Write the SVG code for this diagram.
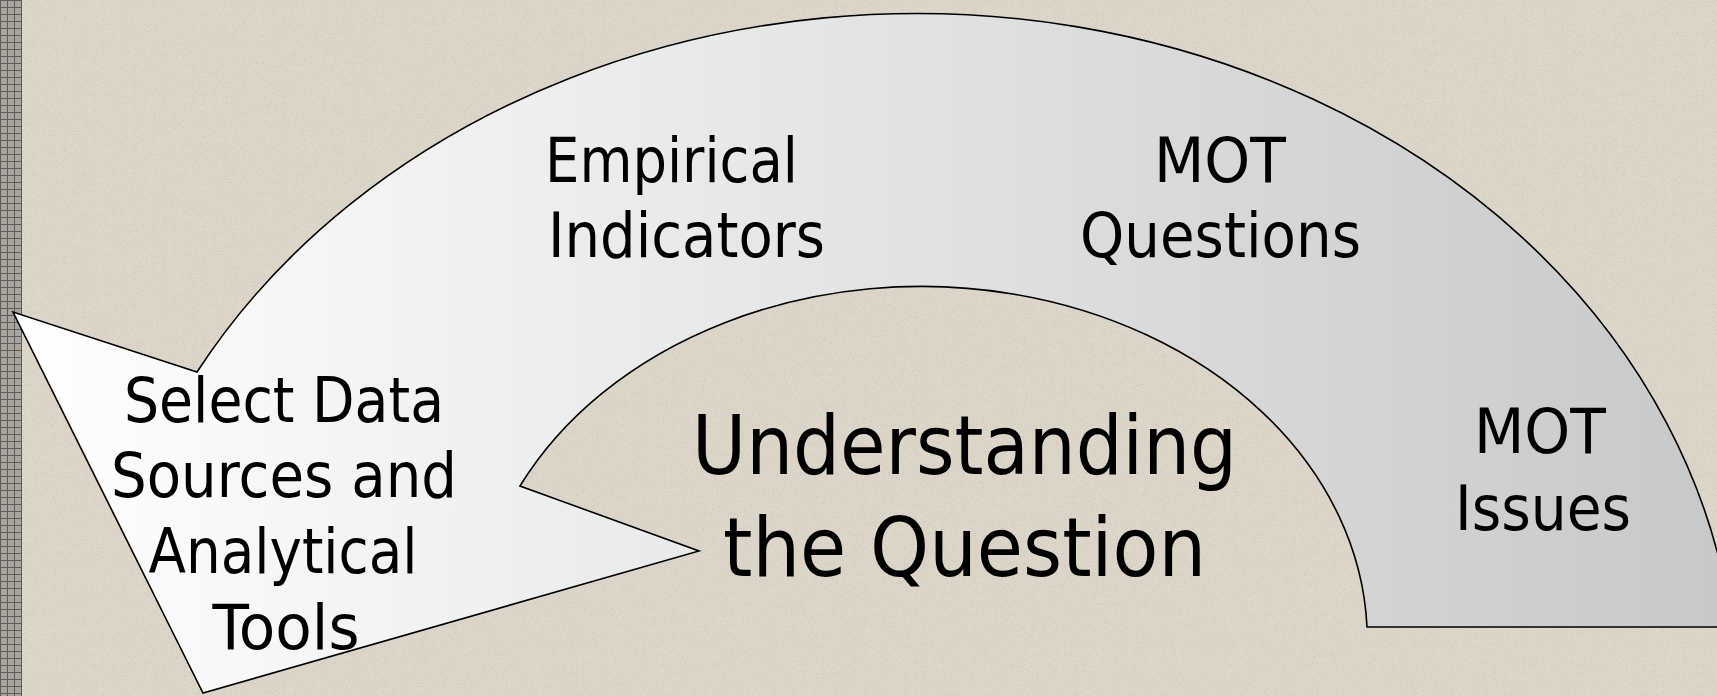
<svg xmlns="http://www.w3.org/2000/svg" width="1717" height="696" viewBox="0 0 1717 696">
  <defs>
    <linearGradient id="arcGrad" gradientUnits="userSpaceOnUse" x1="13" y1="0" x2="1732" y2="0">
      <stop offset="0" stop-color="#FFFFFF"/>
      <stop offset="1" stop-color="#C8C8C8"/>
    </linearGradient>
    <pattern id="grid" width="7" height="7" patternUnits="userSpaceOnUse">
      <rect width="7" height="7" fill="#A8A49E"/>
      <path d="M0 0.5 H7 M0.5 0 V7" stroke="#5E5C59" stroke-width="1"/>
    </pattern>
    <filter id="speckle" x="0" y="0" width="100%" height="100%">
      <feTurbulence type="fractalNoise" baseFrequency="0.9" numOctaves="2" seed="3" result="n"/>
      <feColorMatrix in="n" type="matrix" values="0 0 0 0 0.45  0 0 0 0 0.42  0 0 0 0 0.38  0 0 0 -3.2 1.55" result="dots"/>
      <feComposite in="dots" in2="SourceGraphic" operator="in"/>
    </filter>
  </defs>
  <style>
    .lbl { font-family: "DejaVu Sans", "Verdana", sans-serif; font-size: 62px; fill: #000000; text-anchor: middle; }
    .big { font-size: 82px; }
    .shape { fill: url(#arcGrad); stroke: #000000; stroke-width: 1.6; stroke-linejoin: miter; }
  </style>

  <!-- background -->
  <rect x="0" y="0" width="1717" height="696" fill="#DDD6C9"/>
  <rect x="0" y="0" width="1717" height="696" fill="#DDD6C9" filter="url(#speckle)" opacity="0.35"/>
  <rect x="0" y="0" width="22" height="696" fill="url(#grid)"/>

  <!-- curved arrow shape -->
  <g id="curved-arrow">
    <path class="shape" d="M 197 372 A 820 688 0 0 1 1732 627 L 1367 627 A 446 354 0 0 0 520 486 L 699 551 L 203 693 L 13 312 Z"/>
  </g>

  <g id="node-select-data">
    <text class="lbl" x="284" y="422" textLength="320" lengthAdjust="spacingAndGlyphs">Select Data</text>
    <text class="lbl" x="284" y="497" textLength="346" lengthAdjust="spacingAndGlyphs">Sources and</text>
    <text class="lbl" x="283" y="573" textLength="269" lengthAdjust="spacingAndGlyphs">Analytical</text>
    <text class="lbl" x="286" y="649" textLength="147" lengthAdjust="spacingAndGlyphs">Tools</text>
  </g>

  <g id="node-empirical">
    <text class="lbl" x="671.5" y="182" textLength="253" lengthAdjust="spacingAndGlyphs">Empirical</text>
    <text class="lbl" x="686.5" y="257" textLength="277" lengthAdjust="spacingAndGlyphs">Indicators</text>
  </g>

  <g id="node-mot-questions">
    <text class="lbl" x="1220" y="182" textLength="132" lengthAdjust="spacingAndGlyphs">MOT</text>
    <text class="lbl" x="1220.5" y="257" textLength="281" lengthAdjust="spacingAndGlyphs">Questions</text>
  </g>

  <g id="node-mot-issues">
    <text class="lbl" x="1540" y="453" textLength="132" lengthAdjust="spacingAndGlyphs">MOT</text>
    <text class="lbl" x="1543" y="530" textLength="176" lengthAdjust="spacingAndGlyphs">Issues</text>
  </g>

  <g id="node-understanding">
    <text class="lbl big" x="964.5" y="474" textLength="545" lengthAdjust="spacingAndGlyphs">Understanding</text>
    <text class="lbl big" x="964.5" y="576" textLength="483" lengthAdjust="spacingAndGlyphs">the Question</text>
  </g>

  <g id="connectors"></g>
</svg>
